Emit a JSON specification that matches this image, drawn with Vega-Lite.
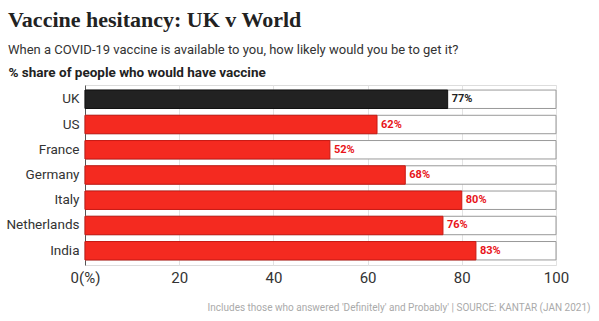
{
  "$schema": "https://vega.github.io/schema/vega-lite/v6.json",
  "width": 471,
  "height": 180,
  "autosize": {"type": "none"},
  "padding": {"left": 85, "top": 85, "right": 43, "bottom": 56},
  "background": "#ffffff",
  "title": {
    "text": "Vaccine hesitancy: UK v World",
    "subtitle": "When a COVID-19 vaccine is available to you, how likely would you be to get it?",
    "anchor": "start",
    "frame": "group",
    "dx": -77,
    "offset": 7,
    "font": "Liberation Serif",
    "fontSize": 22,
    "fontWeight": "bold",
    "color": "#222222",
    "subtitleFont": "Roboto",
    "subtitleFontSize": 13,
    "subtitleColor": "#333333",
    "subtitlePadding": 12
  },
  "data": {
    "values": [
      {"country": "UK", "v": 77},
      {"country": "US", "v": 62},
      {"country": "France", "v": 52},
      {"country": "Germany", "v": 68},
      {"country": "Italy", "v": 80},
      {"country": "Netherlands", "v": 76},
      {"country": "India", "v": 83}
    ]
  },
  "transform": [{"calculate": "datum.v + '%'", "as": "label"}],
  "encoding": {
    "y": {
      "field": "country",
      "type": "nominal",
      "sort": null,
      "scale": {"paddingInner": 0.27, "paddingOuter": 0.2},
      "axis": {
        "title": "% share of people who would have vaccine",
        "titleAngle": 0,
        "titleAlign": "left",
        "titleBaseline": "alphabetic",
        "titleX": -77,
        "titleY": -9,
        "titleFont": "Roboto",
        "titleFontSize": 13.5,
        "titleFontWeight": "bold",
        "titleColor": "#222222",
        "labelFont": "Roboto",
        "labelFontSize": 13.5,
        "labelColor": "#333333",
        "labelPadding": 6,
        "ticks": false,
        "domain": true,
        "domainColor": "#555555",
        "grid": false
      }
    }
  },
  "layer": [
    {
      "mark": {"type": "bar", "fill": "#ffffff", "stroke": "#999999", "strokeWidth": 1},
      "encoding": {
        "x": {
          "datum": 100,
          "type": "quantitative",
          "scale": {"domain": [0, 100], "nice": false},
          "axis": {
            "values": [0, 20, 40, 60, 80, 100],
            "labelExpr": "datum.value === 0 ? '0(%)' : datum.label",
            "labelFlush": false,
            "labelFont": "Roboto",
            "labelFontSize": 15,
            "labelColor": "#333333",
            "labelPadding": 5,
            "ticks": false,
            "domain": false,
            "grid": true,
            "gridColor": "#e2e2e2",
            "title": "Includes those who answered 'Definitely' and Probably' | SOURCE: KANTAR (JAN 2021)",
            "titleFont": "Roboto",
            "titleFontSize": 10,
            "titleFontWeight": "normal",
            "titleColor": "#aaaaaa",
            "titleAlign": "right",
            "titleAnchor": null,
            "titleBaseline": "alphabetic",
            "titleX": 505,
            "titleY": 45
          }
        }
      }
    },
    {
      "mark": {"type": "bar", "strokeWidth": 1},
      "encoding": {
        "x": {"field": "v", "type": "quantitative"},
        "fill": {
          "condition": {"test": "datum.country === 'UK'", "value": "#222222"},
          "value": "#f42a20"
        },
        "stroke": {
          "condition": {"test": "datum.country === 'UK'", "value": "#111111"},
          "value": "#c81a14"
        }
      }
    },
    {
      "mark": {
        "type": "text",
        "align": "left",
        "dx": 4,
        "font": "Roboto",
        "fontSize": 11,
        "fontWeight": "bold"
      },
      "encoding": {
        "x": {"field": "v", "type": "quantitative"},
        "text": {"field": "label"},
        "color": {
          "condition": {"test": "datum.country === 'UK'", "value": "#222222"},
          "value": "#e8141a"
        }
      }
    }
  ]
}
